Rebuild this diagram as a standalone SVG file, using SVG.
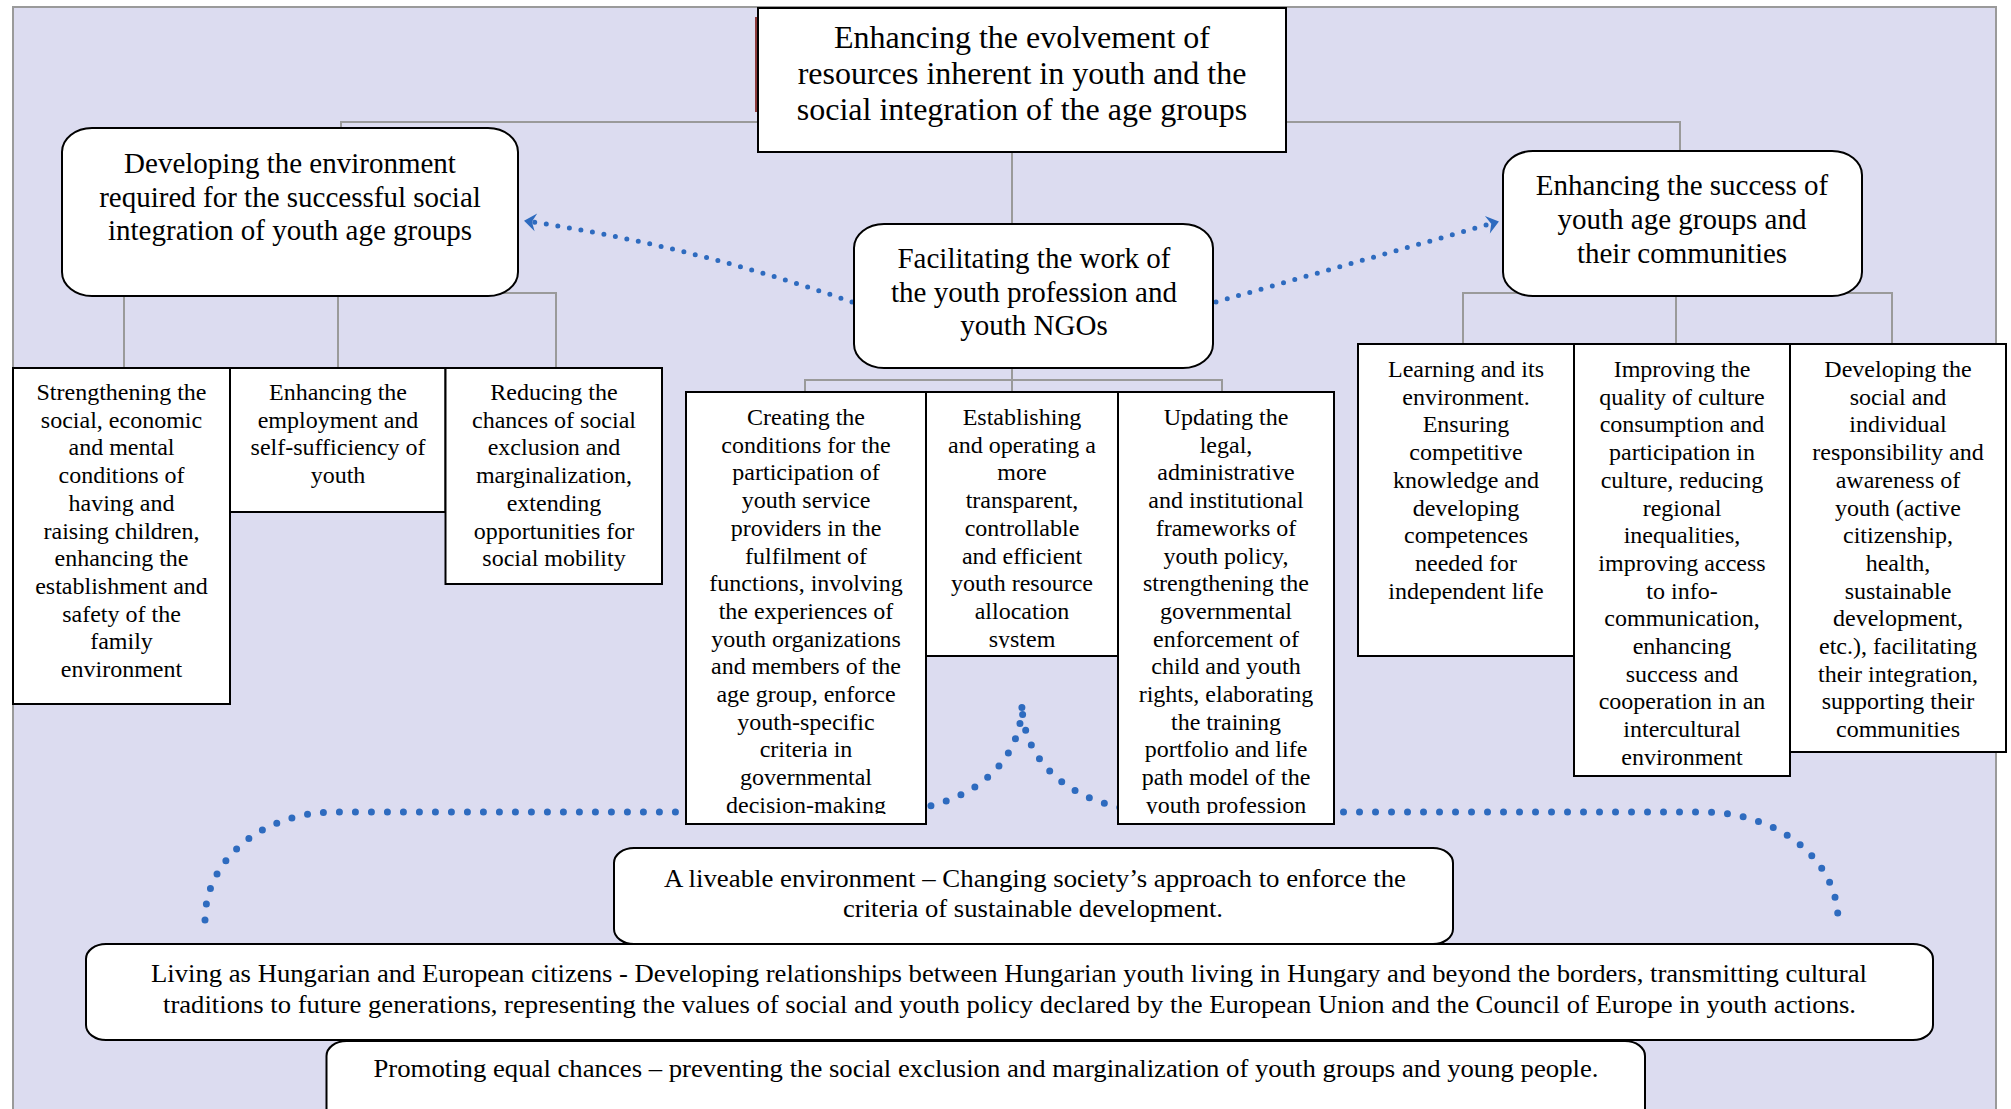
<svg xmlns="http://www.w3.org/2000/svg" width="2011" height="1109" viewBox="0 0 2011 1109">
<style>
  .t { font-family: "Liberation Serif", "Times New Roman", serif; fill: #000; text-anchor: middle; }
  .t32 { font-size: 32px; }
  .t29 { font-size: 29px; }
  .t24 { font-size: 24px; }
  .t26 { font-size: 26px; }
  .box { fill: #fff; stroke: #000; stroke-width: 2; }
  .link { fill: none; stroke: #9a9a9a; stroke-width: 2; }
  .dots { fill: none; stroke: #2e6bbf; stroke-width: 5; stroke-linecap: round; stroke-dasharray: 0 11.7; }
  .brace { fill: none; stroke: #2e6bbf; stroke-width: 7; stroke-linecap: round; stroke-dasharray: 0 16; }
</style>
<defs>
  <marker id="ah" markerUnits="userSpaceOnUse" viewBox="0 0 14 22" refX="11" refY="11" markerWidth="14" markerHeight="22" orient="auto">
    <path d="M 1 2 L 13 11 L 1 20 L 5 11 Z" fill="#2e6bbf"/>
  </marker>
  <clipPath id="c1"><rect x="686" y="392" width="240" height="422"/></clipPath>
  <clipPath id="c2"><rect x="926" y="392" width="192" height="256"/></clipPath>
  <clipPath id="c3"><rect x="1118" y="392" width="216" height="422"/></clipPath>
</defs>
<rect x="0" y="0" width="2011" height="1109" fill="#fff"/>
<rect x="13" y="7" width="1983" height="1130" fill="#dcdcf0" stroke="#9a9a9a" stroke-width="2"/>
<rect x="755" y="17" width="2" height="95" fill="#8b3b3b"/>

<g id="connectors">
  <path class="link" d="M 341 128 V 122 H 1680 V 151"/>
  <path class="link" d="M 1012 152 V 224"/>
  <path class="link" d="M 124 368 V 293 H 556 V 368 M 338 293 V 368"/>
  <path class="link" d="M 1012 368 V 380 M 805 392 V 380 H 1222 V 392 M 1012 380 V 392"/>
  <path class="link" d="M 1463 344 V 293 H 1892 V 344 M 1676 293 V 344"/>
  <path class="brace" d="M 205 920 C 205 860 262 812 335 812 L 880 812 C 960 812 1022 770 1022 703 C 1022 770 1084 812 1164 812 L 1703 812 C 1778 812 1838 860 1838 920"/>
  <path class="dots" d="M 852 302 Q 690 245 526 221" marker-end="url(#ah)"/>
  <path class="dots" d="M 1216 302 L 1497 222" marker-end="url(#ah)"/>
</g>

<g id="n-top">
  <rect class="box" x="758" y="8" width="528" height="144"/>
  <text class="t t32" x="1022" y="47.5">Enhancing the evolvement of</text>
  <text class="t t32" x="1022" y="84">resources inherent in youth and the</text>
  <text class="t t32" x="1022" y="120">social integration of the age groups</text>
</g>

<g id="n-env">
  <rect class="box" x="62" y="128" width="456" height="168" rx="30" ry="24"/>
  <text class="t t29" x="290" y="173">Developing the environment</text>
  <text class="t t29" x="290" y="207">required for the successful social</text>
  <text class="t t29" x="290" y="240">integration of youth age groups</text>
</g>

<g id="n-prof">
  <rect class="box" x="854" y="224" width="359" height="144" rx="30" ry="24"/>
  <text class="t t29" x="1034" y="268">Facilitating the work of</text>
  <text class="t t29" x="1034" y="302">the youth profession and</text>
  <text class="t t29" x="1034" y="335">youth NGOs</text>
</g>

<g id="n-success">
  <rect class="box" x="1503" y="151" width="359" height="145" rx="30" ry="24"/>
  <text class="t t29" x="1682" y="195">Enhancing the success of</text>
  <text class="t t29" x="1682" y="229">youth age groups and</text>
  <text class="t t29" x="1682" y="263">their communities</text>
</g>

<g id="n-family">
  <rect class="box" x="13" y="368" width="217" height="336"/>
  <text class="t t24" x="121.5" y="400">Strengthening the</text>
  <text class="t t24" x="121.5" y="427.7">social, economic</text>
  <text class="t t24" x="121.5" y="455.4">and mental</text>
  <text class="t t24" x="121.5" y="483.1">conditions of</text>
  <text class="t t24" x="121.5" y="510.8">having and</text>
  <text class="t t24" x="121.5" y="538.5">raising children,</text>
  <text class="t t24" x="121.5" y="566.2">enhancing the</text>
  <text class="t t24" x="121.5" y="593.9">establishment and</text>
  <text class="t t24" x="121.5" y="621.6">safety of the</text>
  <text class="t t24" x="121.5" y="649.3">family</text>
  <text class="t t24" x="121.5" y="677">environment</text>
</g>

<g id="n-employ">
  <rect class="box" x="230" y="368" width="215.5" height="144"/>
  <text class="t t24" x="338" y="400">Enhancing the</text>
  <text class="t t24" x="338" y="427.7">employment and</text>
  <text class="t t24" x="338" y="455.4">self-sufficiency of</text>
  <text class="t t24" x="338" y="483.1">youth</text>
</g>

<g id="n-exclusion">
  <rect class="box" x="445.5" y="368" width="216.5" height="216"/>
  <text class="t t24" x="554" y="400">Reducing the</text>
  <text class="t t24" x="554" y="427.7">chances of social</text>
  <text class="t t24" x="554" y="455.4">exclusion and</text>
  <text class="t t24" x="554" y="483.1">marginalization,</text>
  <text class="t t24" x="554" y="510.8">extending</text>
  <text class="t t24" x="554" y="538.5">opportunities for</text>
  <text class="t t24" x="554" y="566.2">social mobility</text>
</g>

<g id="n-conditions">
  <rect class="box" x="686" y="392" width="240" height="432"/>
  <g clip-path="url(#c1)">
  <text class="t t24" x="806" y="425">Creating the</text>
  <text class="t t24" x="806" y="452.7">conditions for the</text>
  <text class="t t24" x="806" y="480.4">participation of</text>
  <text class="t t24" x="806" y="508.1">youth service</text>
  <text class="t t24" x="806" y="535.8">providers in the</text>
  <text class="t t24" x="806" y="563.5">fulfilment of</text>
  <text class="t t24" x="806" y="591.2">functions, involving</text>
  <text class="t t24" x="806" y="618.9">the experiences of</text>
  <text class="t t24" x="806" y="646.6">youth organizations</text>
  <text class="t t24" x="806" y="674.3">and members of the</text>
  <text class="t t24" x="806" y="702">age group, enforce</text>
  <text class="t t24" x="806" y="729.7">youth-specific</text>
  <text class="t t24" x="806" y="757.4">criteria in</text>
  <text class="t t24" x="806" y="785.1">governmental</text>
  <text class="t t24" x="806" y="812.8">decision-making</text>
  </g>
</g>

<g id="n-allocation">
  <rect class="box" x="926" y="392" width="192" height="264"/>
  <g clip-path="url(#c2)">
  <text class="t t24" x="1022" y="425">Establishing</text>
  <text class="t t24" x="1022" y="452.7">and operating a</text>
  <text class="t t24" x="1022" y="480.4">more</text>
  <text class="t t24" x="1022" y="508.1">transparent,</text>
  <text class="t t24" x="1022" y="535.8">controllable</text>
  <text class="t t24" x="1022" y="563.5">and efficient</text>
  <text class="t t24" x="1022" y="591.2">youth resource</text>
  <text class="t t24" x="1022" y="618.9">allocation</text>
  <text class="t t24" x="1022" y="646.6">system</text>
  </g>
</g>

<g id="n-frameworks">
  <rect class="box" x="1118" y="392" width="216" height="432"/>
  <g clip-path="url(#c3)">
  <text class="t t24" x="1226" y="425">Updating the</text>
  <text class="t t24" x="1226" y="452.7">legal,</text>
  <text class="t t24" x="1226" y="480.4">administrative</text>
  <text class="t t24" x="1226" y="508.1">and institutional</text>
  <text class="t t24" x="1226" y="535.8">frameworks of</text>
  <text class="t t24" x="1226" y="563.5">youth policy,</text>
  <text class="t t24" x="1226" y="591.2">strengthening the</text>
  <text class="t t24" x="1226" y="618.9">governmental</text>
  <text class="t t24" x="1226" y="646.6">enforcement of</text>
  <text class="t t24" x="1226" y="674.3">child and youth</text>
  <text class="t t24" x="1226" y="702">rights, elaborating</text>
  <text class="t t24" x="1226" y="729.7">the training</text>
  <text class="t t24" x="1226" y="757.4">portfolio and life</text>
  <text class="t t24" x="1226" y="785.1">path model of the</text>
  <text class="t t24" x="1226" y="812.8">youth profession</text>
  </g>
</g>

<g id="n-learning">
  <rect class="box" x="1358" y="344" width="216" height="312"/>
  <text class="t t24" x="1466" y="377">Learning and its</text>
  <text class="t t24" x="1466" y="404.7">environment.</text>
  <text class="t t24" x="1466" y="432.4">Ensuring</text>
  <text class="t t24" x="1466" y="460.1">competitive</text>
  <text class="t t24" x="1466" y="487.8">knowledge and</text>
  <text class="t t24" x="1466" y="515.5">developing</text>
  <text class="t t24" x="1466" y="543.2">competences</text>
  <text class="t t24" x="1466" y="570.9">needed for</text>
  <text class="t t24" x="1466" y="598.6">independent life</text>
</g>

<g id="n-culture">
  <rect class="box" x="1574" y="344" width="216" height="432"/>
  <text class="t t24" x="1682" y="377">Improving the</text>
  <text class="t t24" x="1682" y="404.7">quality of culture</text>
  <text class="t t24" x="1682" y="432.4">consumption and</text>
  <text class="t t24" x="1682" y="460.1">participation in</text>
  <text class="t t24" x="1682" y="487.8">culture, reducing</text>
  <text class="t t24" x="1682" y="515.5">regional</text>
  <text class="t t24" x="1682" y="543.2">inequalities,</text>
  <text class="t t24" x="1682" y="570.9">improving access</text>
  <text class="t t24" x="1682" y="598.6">to info-</text>
  <text class="t t24" x="1682" y="626.3">communication,</text>
  <text class="t t24" x="1682" y="654">enhancing</text>
  <text class="t t24" x="1682" y="681.7">success and</text>
  <text class="t t24" x="1682" y="709.4">cooperation in an</text>
  <text class="t t24" x="1682" y="737.1">intercultural</text>
  <text class="t t24" x="1682" y="764.8">environment</text>
</g>

<g id="n-responsibility">
  <rect class="box" x="1790" y="344" width="216" height="408"/>
  <text class="t t24" x="1898" y="377">Developing the</text>
  <text class="t t24" x="1898" y="404.7">social and</text>
  <text class="t t24" x="1898" y="432.4">individual</text>
  <text class="t t24" x="1898" y="460.1">responsibility and</text>
  <text class="t t24" x="1898" y="487.8">awareness of</text>
  <text class="t t24" x="1898" y="515.5">youth (active</text>
  <text class="t t24" x="1898" y="543.2">citizenship,</text>
  <text class="t t24" x="1898" y="570.9">health,</text>
  <text class="t t24" x="1898" y="598.6">sustainable</text>
  <text class="t t24" x="1898" y="626.3">development,</text>
  <text class="t t24" x="1898" y="654">etc.), facilitating</text>
  <text class="t t24" x="1898" y="681.7">their integration,</text>
  <text class="t t24" x="1898" y="709.4">supporting their</text>
  <text class="t t24" x="1898" y="737.1">communities</text>
</g>

<g id="n-liveable">
  <rect class="box" x="614" y="848" width="839" height="96" rx="20" ry="15"/>
  <text class="t t26" x="1035" y="887" textLength="742" lengthAdjust="spacingAndGlyphs">A liveable environment – Changing society’s approach to enforce the</text>
  <text class="t t26" x="1033" y="917" textLength="380" lengthAdjust="spacingAndGlyphs">criteria of sustainable development.</text>
</g>

<g id="n-citizens">
  <rect class="box" x="86" y="944" width="1847" height="96" rx="20" ry="15"/>
  <text class="t t26" x="1009" y="982" textLength="1716" lengthAdjust="spacingAndGlyphs">Living as Hungarian and European citizens - Developing relationships between Hungarian youth living in Hungary and beyond the borders, transmitting cultural</text>
  <text class="t t26" x="1009.5" y="1013" textLength="1693" lengthAdjust="spacingAndGlyphs">traditions to future generations, representing the values of social and youth policy declared by the European Union and the Council of Europe in youth actions.</text>
</g>

<g id="n-equal">
  <rect class="box" x="326.5" y="1041" width="1318.5" height="100" rx="20" ry="15"/>
  <text class="t t26" x="986" y="1077" textLength="1225" lengthAdjust="spacingAndGlyphs">Promoting equal chances – preventing the social exclusion and marginalization of youth groups and young people.</text>
</g>
</svg>
